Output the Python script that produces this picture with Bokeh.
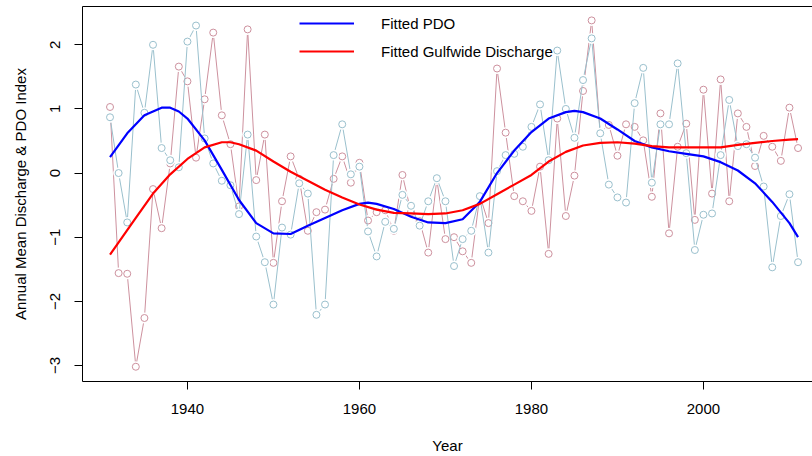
import math
from bokeh.plotting import figure
from bokeh.models import Range1d, LinearAxis, FixedTicker, Legend, LegendItem, ColumnDataSource
from bokeh.embed import file_html
from bokeh.resources import INLINE

# ---------------- data ----------------
years = list(range(1931, 2012))

pdo = [0.87, 0.00, -0.77, 1.38, 0.94, 2.00, 0.39, 0.20, 0.09, 2.05,
       2.30, 0.54, 0.15, -0.12, -0.19, -0.64, 0.60, -0.99, -1.39, -2.05,
       -0.85, -0.96, -0.16, -0.32, -2.21, -2.05, 0.28, 0.76, -0.02, 0.10,
       -0.91, -1.30, -0.76, -0.87, -0.34, -0.51, -0.82, -0.44, -0.08, -0.44,
       -1.45, -1.03, -0.90, -0.36, -1.24, 0.03, 0.28, 0.30, 0.41, 0.72,
       1.07, 0.20, 1.91, 1.00, 0.55, 1.45, 2.10, 0.62, -0.18, -0.38,
       -0.46, 1.09, 1.64, -0.15, 0.76, 0.76, 1.71, 0.31, -1.20, -0.65,
       -0.63, 0.28, 1.14, 0.42, 0.45, 0.24, -0.21, -1.47, -0.67, -0.33,
       -1.39]

discharge = [1.03, -1.56, -1.57, -3.02, -2.26, -0.25, -0.86, 0.15, 1.66, 1.43,
             0.24, 1.15, 2.19, 0.90, 0.45, -0.52, 2.24, -0.11, 0.60, -1.40,
             -0.44, 0.26, -0.09, -0.90, -0.61, -0.57, -0.09, 0.26, -0.15, 0.16,
             -0.74, -0.61, -0.58, -0.90, -0.03, -0.61, -0.75, -1.24, -0.10, -1.03,
             -1.00, -1.22, -1.40, -0.35, -0.78, 1.63, 0.63, -0.36, -0.44, -0.59,
             0.10, -1.26, 0.85, -0.67, -0.04, 1.28, 2.38, 0.63, 0.75, 0.27,
             0.76, 0.72, 0.51, -0.37, 0.93, -0.94, 0.41, 0.77, -0.73, 1.30,
             -0.32, 1.46, -0.44, 0.93, 0.72, 0.11, 0.58, 0.41, 0.19, 1.02,
             0.39]

fit_pdo_years = [1931, 1933, 1935, 1937, 1938, 1939, 1940, 1942, 1944, 1946,
                 1948, 1950, 1952, 1954, 1956, 1958, 1960, 1961, 1962, 1964,
                 1966, 1968, 1970, 1972, 1974, 1976, 1978, 1980, 1982, 1984,
                 1985, 1986, 1988, 1990, 1992, 1994, 1996, 1998, 2000, 2002,
                 2004, 2006, 2008, 2010, 2011]
fit_pdo = [0.25, 0.62, 0.90, 1.02, 1.02, 0.96, 0.85, 0.51, 0.05, -0.42,
           -0.78, -0.94, -0.95, -0.82, -0.70, -0.58, -0.48, -0.46, -0.48, -0.56,
           -0.68, -0.77, -0.78, -0.72, -0.45, 0.00, 0.35, 0.64, 0.85, 0.95,
           0.97, 0.95, 0.85, 0.68, 0.50, 0.40, 0.34, 0.30, 0.26, 0.17,
           0.04, -0.16, -0.45, -0.78, -1.00]

fit_dis_years = [1931, 1932, 1934, 1936, 1938, 1940, 1942, 1944, 1945, 1946,
                 1948, 1950, 1952, 1954, 1956, 1958, 1960, 1962, 1964, 1966,
                 1968, 1970, 1972, 1974, 1976, 1978, 1980, 1982, 1984, 1986,
                 1988, 1990, 1992, 1994, 1996, 1998, 2000, 2002, 2004, 2006,
                 2008, 2010, 2011]
fit_dis = [-1.27, -1.08, -0.70, -0.32, -0.02, 0.22, 0.40, 0.48, 0.48, 0.45,
           0.35, 0.18, 0.02, -0.12, -0.26, -0.38, -0.49, -0.57, -0.62, -0.63,
           -0.64, -0.63, -0.58, -0.48, -0.33, -0.18, -0.03, 0.18, 0.33, 0.43,
           0.47, 0.48, 0.46, 0.42, 0.40, 0.40, 0.40, 0.40, 0.44, 0.47,
           0.50, 0.52, 0.53]

x_ticks = [1940, 1960, 1980, 2000]
y_ticks = [-3, -2, -1, 0, 1, 2]

# ---------------- styles ----------------
FONT = "Liberation Sans"
PDO_COL = "#9AC0CD"
DIS_COL = "#CD919E"

p = figure(width=812, height=456,
           x_range=Range1d(1927.8, 2012.68), y_range=Range1d(-3.25, 2.597),
           output_backend="svg", toolbar_location=None,
           min_border_left=82, min_border_right=0, min_border_top=6, min_border_bottom=74)
p.outline_line_color = None
p.xgrid.grid_line_color = None
p.ygrid.grid_line_color = None
p.background_fill_color = "white"
p.border_fill_color = "white"

for ax in (p.xaxis[0], p.yaxis[0]):
    ax.axis_line_color = "black"
    ax.axis_line_width = 1
    ax.major_tick_out = 8
    ax.major_tick_in = 0
    ax.minor_tick_out = 0
    ax.minor_tick_in = 0
    ax.major_tick_line_color = "black"
    ax.major_label_text_font = FONT
    ax.major_label_text_font_size = "15px"
    ax.major_label_text_color = "black"
    ax.axis_label_text_font = FONT
    ax.axis_label_text_font_size = "15px"
    ax.axis_label_text_font_style = "normal"
    ax.axis_label_text_color = "black"

p.xaxis.ticker = FixedTicker(ticks=x_ticks)
p.xaxis.axis_label = "Year"
p.xaxis.major_label_standoff = 14
p.xaxis.axis_label_standoff = 20

p.yaxis.ticker = FixedTicker(ticks=y_ticks)
p.yaxis.axis_label = "Annual Mean Discharge & PDO Index"
p.yaxis.major_label_orientation = "vertical"
p.yaxis.major_label_standoff = 14
p.yaxis.axis_label_standoff = 19

top = LinearAxis(ticker=FixedTicker(ticks=[]), major_tick_out=0, major_tick_in=0,
                 minor_tick_out=0, minor_tick_in=0, major_label_text_font_size="0px",
                 axis_line_color="black")
p.add_layout(top, "above")

src_dis = ColumnDataSource(dict(x=years, y=discharge))
src_pdo = ColumnDataSource(dict(x=years, y=pdo))

for src, col in ((src_dis, DIS_COL), (src_pdo, PDO_COL)):
    p.line("x", "y", source=src, line_color=col, line_width=1)
    p.scatter("x", "y", source=src, size=11, fill_color="white", line_color=None)
    p.scatter("x", "y", source=src, size=7, fill_color=None, line_color=col, line_width=1)

r_pdo = p.line(fit_pdo_years, fit_pdo, line_color="blue", line_width=2.2)
r_dis = p.line(fit_dis_years, fit_dis, line_color="red", line_width=2.2)

legend = Legend(items=[LegendItem(label="Fitted PDO", renderers=[r_pdo]),
                       LegendItem(label="Fitted Gulfwide Discharge", renderers=[r_dis])],
                location=(217, 320), border_line_color=None, background_fill_alpha=0,
                padding=0, margin=0, spacing=8, glyph_width=55, glyph_height=20,
                label_height=20, label_standoff=27, label_text_font=FONT,
                label_text_font_size="15px", label_text_color="black")
p.add_layout(legend)

open("out.html", "w").write(file_html(p, INLINE))
